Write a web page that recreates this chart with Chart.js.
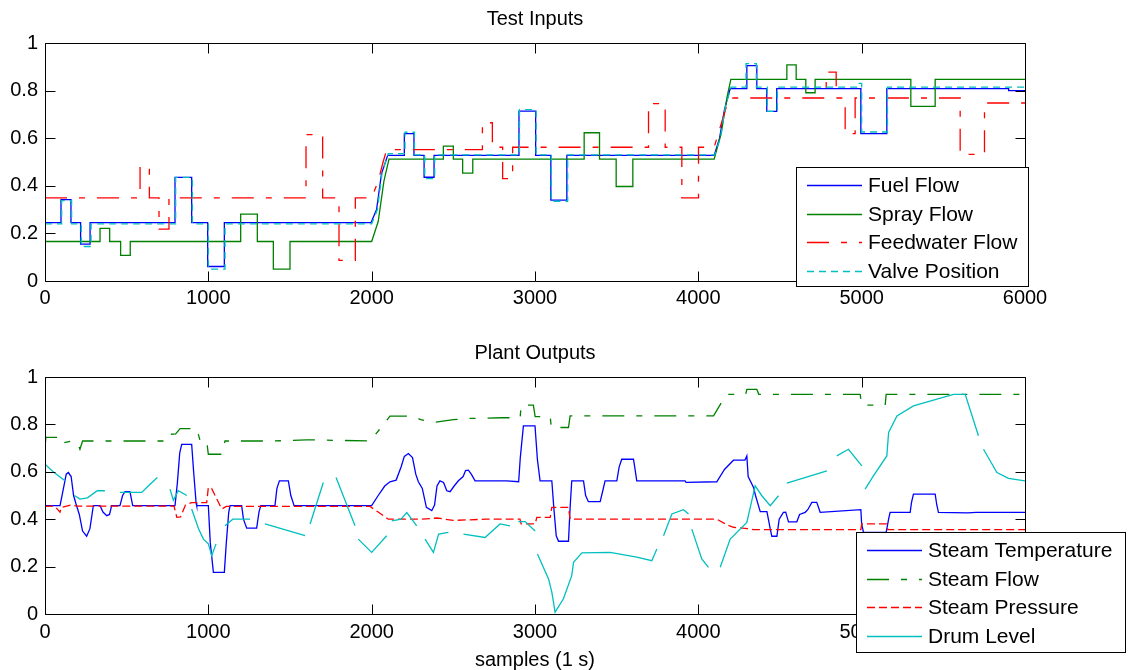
<!DOCTYPE html>
<html>
<head>
<meta charset="utf-8">
<script src="https://cdn.jsdelivr.net/npm/chart.js@4.4.1/dist/chart.umd.min.js"></script>
<style>
  body { margin: 0; background: #fff; }
  #wrap { position: relative; width: 1128px; height: 670px; }
  canvas { position: absolute; left: 0; }
</style>
</head>
<body>
<div id="wrap">
  <canvas id="inputs" width="1128" height="335" style="top:0"></canvas>
  <canvas id="outputs" width="1128" height="335" style="top:335px"></canvas>
</div>
<script>
// ---- data: [sample, value] vertices ----
const xTicks = [0, 1000, 2000, 3000, 4000, 5000, 6000];
const yTicks = [0, 0.2, 0.4, 0.6, 0.8, 1];

const fuelFlow = [[0,.245],[98,.245],[98,.342],[159,.342],[159,.245],[218,.245],[218,.155],[276,.155],[276,.245],[796,.245],[796,.435],[898,.435],[898,.245],[996,.245],[996,.061],[1098,.061],[1098,.245],[1996,.245],[2030,.30],[2060,.45],[2098,.528],[2200,.528],[2200,.619],[2259,.619],[2259,.528],[2321,.528],[2321,.436],[2382,.436],[2382,.528],[2902,.528],[2902,.714],[3004,.714],[3004,.528],[3097,.528],[3097,.34],[3195,.34],[3195,.528],[4097,.528],[4130,.60],[4160,.72],[4195,.808],[4297,.808],[4297,.905],[4358,.905],[4358,.808],[4419,.808],[4419,.713],[4480,.713],[4480,.808],[4995,.808],[4995,.619],[5154,.619],[5154,.808],[5900,.808],[5900,.80],[6000,.80]];

const sprayFlow = [[0,.166],[337,.166],[337,.221],[396,.221],[396,.166],[463,.166],[463,.108],[522,.108],[522,.166],[1198,.166],[1198,.281],[1300,.281],[1300,.166],[1398,.166],[1398,.05],[1500,.05],[1500,.166],[2000,.166],[2040,.25],[2075,.42],[2106,.512],[2439,.512],[2439,.567],[2500,.567],[2500,.512],[2557,.512],[2557,.453],[2619,.453],[2619,.512],[3301,.512],[3301,.623],[3395,.623],[3395,.512],[3497,.512],[3497,.397],[3599,.397],[3599,.512],[4097,.512],[4140,.62],[4175,.77],[4199,.847],[4542,.847],[4542,.908],[4599,.908],[4599,.847],[4658,.847],[4658,.791],[4715,.791],[4715,.847],[5301,.847],[5301,.734],[5450,.734],[5450,.847],[6000,.847]];

const feedwaterFlow = [[0,.349],[582,.349],[582,.481],[639,.481],[639,.349],[698,.349],[698,.218],[759,.218],[759,.349],[1598,.349],[1598,.615],[1700,.615],[1700,.349],[1800,.349],[1800,.087],[1900,.087],[1900,.349],[2000,.349],[2040,.42],[2070,.50],[2092,.552],[2678,.552],[2678,.665],[2739,.665],[2739,.562],[2802,.562],[2802,.43],[2863,.43],[2863,.562],[3695,.562],[3695,.745],[3797,.745],[3797,.562],[3899,.562],[3899,.349],[4001,.349],[4001,.562],[4097,.562],[4140,.66],[4175,.74],[4195,.769],[4783,.769],[4783,.878],[4844,.878],[4844,.769],[4899,.769],[4899,.619],[4960,.619],[4960,.769],[5603,.769],[5603,.532],[5752,.532],[5752,.748],[6000,.748]];

const valvePosition = [[0,.24],[102,.24],[102,.338],[163,.338],[163,.24],[222,.24],[222,.145],[282,.145],[282,.24],[800,.24],[800,.435],[902,.435],[902,.24],[1000,.24],[1000,.05],[1102,.05],[1102,.24],[2000,.24],[2035,.30],[2065,.46],[2102,.535],[2204,.535],[2204,.625],[2262,.625],[2262,.53],[2325,.53],[2325,.43],[2386,.43],[2386,.53],[2905,.53],[2905,.72],[3007,.72],[3007,.53],[3100,.53],[3100,.335],[3200,.335],[3200,.53],[4100,.53],[4135,.60],[4165,.73],[4200,.815],[4292,.815],[4292,.913],[4355,.913],[4355,.815],[4422,.815],[4422,.713],[4484,.713],[4484,.815],[4985,.815],[4985,.83],[5000,.83],[5000,.626],[5158,.626],[5158,.815],[6000,.815]];

const steamTemperature = [[0,.457],[92,.457],[110,.52],[130,.59],[143,.597],[160,.58],[175,.50],[190,.464],[210,.42],[230,.35],[255,.328],[275,.36],[296,.457],[337,.457],[355,.43],[378,.415],[395,.42],[408,.457],[459,.457],[475,.50],[490,.516],[520,.516],[537,.457],[796,.457],[810,.55],[825,.68],[837,.716],[898,.716],[910,.60],[925,.47],[929,.457],[1000,.457],[1012,.30],[1031,.176],[1098,.176],[1110,.30],[1125,.43],[1133,.457],[1204,.457],[1215,.40],[1235,.362],[1296,.362],[1310,.43],[1321,.457],[1408,.457],[1420,.53],[1435,.562],[1490,.562],[1505,.50],[1525,.457],[2000,.457],[2040,.50],[2080,.54],[2112,.558],[2150,.565],[2180,.62],[2200,.665],[2225,.677],[2250,.66],[2270,.59],[2286,.558],[2310,.53],[2335,.45],[2368,.436],[2385,.46],[2400,.54],[2418,.562],[2440,.555],[2460,.52],[2480,.516],[2505,.54],[2531,.562],[2560,.58],[2575,.605],[2592,.607],[2610,.59],[2633,.562],[2827,.562],[2900,.558],[2910,.66],[2929,.794],[3000,.794],[3015,.65],[3031,.562],[3103,.562],[3115,.45],[3130,.33],[3144,.307],[3205,.307],[3215,.45],[3225,.562],[3297,.562],[3310,.50],[3327,.474],[3399,.474],[3415,.52],[3429,.562],[3501,.562],[3515,.62],[3531,.653],[3603,.653],[3615,.60],[3623,.562],[3919,.562],[3925,.555],[4113,.558],[4160,.61],[4215,.649],[4285,.649],[4297,.667],[4305,.58],[4338,.534],[4350,.50],[4379,.432],[4420,.432],[4440,.36],[4450,.328],[4481,.328],[4495,.40],[4521,.429],[4535,.43],[4552,.389],[4603,.389],[4620,.42],[4654,.429],[4670,.44],[4695,.471],[4725,.471],[4746,.429],[4995,.44],[5000,.38],[5011,.344],[5150,.344],[5165,.40],[5174,.429],[5297,.429],[5305,.47],[5317,.506],[5450,.506],[5460,.46],[5470,.429],[5650,.427],[5700,.429],[6000,.429]];

const steamFlow = [[0,.70],[5,.745],[92,.745],[100,.72],[163,.73],[200,.72],[214,.695],[230,.73],[745,.73],[760,.758],[800,.76],[827,.782],[929,.782],[950,.73],[990,.73],[1000,.674],[1082,.674],[1102,.73],[1400,.73],[1600,.735],[1990,.73],[2050,.78],[2112,.835],[2255,.835],[2300,.82],[2378,.808],[2500,.82],[2600,.825],[2800,.828],[2909,.828],[2915,.881],[2990,.881],[3001,.833],[3093,.833],[3100,.787],[3205,.787],[3215,.836],[4093,.836],[4140,.89],[4174,.927],[4290,.927],[4297,.948],[4358,.948],[4370,.927],[4991,.927],[5000,.881],[5144,.881],[5150,.927],[6000,.927]];

const steamPressure = [[0,.454],[60,.455],[92,.43],[100,.45],[160,.46],[200,.455],[790,.455],[807,.408],[830,.41],[860,.46],[898,.47],[990,.47],[1000,.534],[1020,.53],[1082,.443],[1110,.454],[1990,.454],[2040,.43],[2102,.40],[2300,.40],[2400,.405],[2500,.395],[2700,.40],[2908,.40],[2915,.38],[3001,.38],[3011,.408],[3093,.408],[3103,.45],[3205,.45],[3215,.40],[4113,.40],[4180,.375],[4215,.366],[4300,.36],[4338,.356],[4995,.356],[5000,.38],[5154,.38],[5160,.356],[6000,.356]];

// drum level trace is broken in the picture; null marks a gap
const drumLevel = [[0,.632],[50,.60],[122,.562],[150,null],[180,.50],[214,.485],[260,.49],[320,.52],[367,.52],[410,null],[459,.513],[592,.513],[640,.545],[688,.576],[720,null],[765,.527],[786,.48],[816,.52],[868,.50],[880,null],[898,.443],[940,.36],[970,.316],[1000,.296],[1021,.246],[1047,.296],[1070,null],[1102,.372],[1150,.40],[1255,.40],[1300,null],[1347,.38],[1592,.331],[1610,null],[1623,.38],[1704,.555],[1740,null],[1782,.576],[1898,.372],[1910,null],[1918,.316],[2000,.26],[2092,.33],[2110,null],[2123,.393],[2180,.40],[2215,.428],[2276,.372],[2300,null],[2327,.316],[2378,.26],[2410,.337],[2470,.344],[2520,null],[2562,.337],[2694,.323],[2786,.38],[2847,.372],[2870,null],[2898,.39],[2940,.39],[3001,.35],[3008,null],[3015,.253],[3083,.148],[3103,.092],[3123,.008],[3174,.064],[3225,.162],[3236,.218],[3287,.258],[3460,.26],[3623,.24],[3715,.225],[3746,.274],[3765,null],[3787,.33],[3838,.422],[3909,.44],[3940,.422],[3950,null],[3960,.358],[4021,.232],[4062,.197],[4100,null],[4134,.197],[4195,.316],[4297,.386],[4348,.541],[4389,.499],[4440,.457],[4491,.499],[4520,null],[4542,.552],[4787,.604],[4820,null],[4848,.667],[4919,.695],[5001,.625],[5010,null],[5021,.527],[5072,.583],[5154,.667],[5165,.766],[5216,.836],[5317,.878],[5562,.927],[5634,.927],[5715,.752],[5730,null],[5746,.695],[5828,.597],[5899,.572],[6000,.562]];

const BLUE = '#0000ff', GREEN = '#008000', RED = '#ff0000', CYAN = '#00bfbf';
const DASH_DOT = [22, 12, 6, 12];
const DASH = [8, 4];
const TICK_LEN = 10;

Chart.defaults.font.family = '"Liberation Sans", Arial, Helvetica, sans-serif';
Chart.defaults.font.size = 20;
Chart.defaults.color = '#000';

// MATLAB style frame: box with inward ticks on all four sides
const frameTicks = {
    id: 'frameTicks',
    afterDatasetsDraw(chart) {
        const { ctx, chartArea: a, scales } = chart;
        const x = scales.x, y = scales.y;
        const top = Math.round(a.top) + 0.5, bottom = Math.round(a.bottom) + 0.5;
        const left = Math.round(a.left) + 0.5, right = Math.round(a.right) + 0.5;
        ctx.save();
        ctx.strokeStyle = '#000';
        ctx.lineWidth = 1;
        ctx.setLineDash([]);
        ctx.beginPath();
        x.ticks.forEach(t => {
            const px = Math.round(x.getPixelForValue(t.value)) + 0.5;
            ctx.moveTo(px, bottom); ctx.lineTo(px, bottom - TICK_LEN);
            ctx.moveTo(px, top); ctx.lineTo(px, top + TICK_LEN);
        });
        y.ticks.forEach(t => {
            const py = Math.round(y.getPixelForValue(t.value)) + 0.5;
            ctx.moveTo(left, py); ctx.lineTo(left + TICK_LEN, py);
            ctx.moveTo(right, py); ctx.lineTo(right - TICK_LEN, py);
        });
        ctx.rect(left, top, right - left, bottom - top);
        ctx.stroke();
        ctx.restore();
    }
};

// boxed legend drawn inside the axes like MATLAB does
const boxLegend = {
    id: 'boxLegend',
    afterDraw(chart, args, opts) {
        const { ctx } = chart;
        ctx.save();
        ctx.fillStyle = '#fff';
        ctx.fillRect(opts.left, opts.top, opts.width, opts.height);
        ctx.strokeStyle = '#000';
        ctx.lineWidth = 1;
        ctx.setLineDash([]);
        ctx.strokeRect(opts.left + 0.5, opts.top + 0.5, opts.width, opts.height);
        ctx.font = '21px "Liberation Sans", Arial, sans-serif';
        ctx.textBaseline = 'middle';
        ctx.textAlign = 'left';
        chart.data.datasets.forEach((ds, i) => {
            const cy = Math.round(opts.firstRow + i * opts.rowGap) + 0.5;
            ctx.strokeStyle = ds.borderColor;
            ctx.lineWidth = ds.borderWidth;
            ctx.setLineDash(ds.borderDash || []);
            ctx.beginPath();
            ctx.moveTo(opts.left + 11, cy);
            ctx.lineTo(opts.left + 66, cy);
            ctx.stroke();
            ctx.fillStyle = '#000';
            ctx.fillText(ds.label, opts.left + 72, cy + 1);
        });
        ctx.restore();
    }
};

function toPoints(pairs) {
    return pairs.map(p => ({ x: p[0], y: p[1] }));
}

function series(label, pairs, color, dash, order) {
    return {
        label: label,
        data: toPoints(pairs),
        borderColor: color,
        borderWidth: 1.3,
        borderDash: dash,
        pointRadius: 0,
        tension: 0,
        spanGaps: false,
        order: order
    };
}

// the subplot title sits on an empty top axis so it centres over the axes box
function buildOptions(title, titleTop, xLabelPad, xTitle, legend) {
    return {
        responsive: false,
        animation: false,
        events: [],
        layout: { padding: 0 },
        scales: {
            x: {
                type: 'linear', min: 0, max: 6000,
                afterBuildTicks: s => { s.ticks = xTicks.map(v => ({ value: v })); },
                ticks: { padding: xLabelPad, maxRotation: 0, autoSkip: false, callback: v => String(v) },
                grid: { display: false, drawTicks: false },
                border: { display: false },
                title: xTitle ? { display: true, text: xTitle, font: { size: 20, lineHeight: 1 }, padding: 0 } : { display: false },
                afterFit: s => { s.height = xTitle ? 56 : 54; }
            },
            xTop: {
                type: 'linear', position: 'top', min: 0, max: 6000,
                ticks: { display: false },
                grid: { display: false, drawTicks: false },
                border: { display: false },
                title: { display: true, text: title, font: { size: 20, lineHeight: 1 }, padding: { top: titleTop, bottom: 0 } },
                afterFit: s => { s.height = titleTop + 34; }
            },
            y: {
                type: 'linear', min: 0, max: 1,
                afterBuildTicks: s => { s.ticks = yTicks.map(v => ({ value: v })); },
                ticks: { padding: 7, callback: v => String(v) },
                grid: { display: false, drawTicks: false },
                border: { display: false },
                afterFit: s => { s.width = 45; }
            },
            yRight: {
                type: 'linear', position: 'right', min: 0, max: 1,
                ticks: { display: false },
                grid: { display: false, drawTicks: false },
                border: { display: false },
                afterFit: s => { s.width = 103; }
            }
        },
        plugins: {
            legend: { display: false },
            tooltip: { enabled: false },
            title: { display: false },
            boxLegend: legend
        }
    };
}

document.addEventListener('DOMContentLoaded', function() {
    new Chart(document.getElementById('inputs'), {
        type: 'line',
        data: {
            datasets: [
                series('Fuel Flow', fuelFlow, BLUE, [], 4),
                series('Spray Flow', sprayFlow, GREEN, [], 3),
                series('Feedwater Flow', feedwaterFlow, RED, DASH_DOT, 2),
                series('Valve Position', valvePosition, CYAN, [7, 5], 1)
            ]
        },
        options: buildOptions('Test Inputs', 9, 5, null,
            { left: 796, top: 167, width: 232, height: 119, firstRow: 185, rowGap: 28.5 }),
        plugins: [frameTicks, boxLegend]
    });

    new Chart(document.getElementById('outputs'), {
        type: 'line',
        data: {
            datasets: [
                series('Steam Temperature', steamTemperature, BLUE, [], 4),
                series('Steam Flow', steamFlow, GREEN, DASH_DOT, 3),
                series('Steam Pressure', steamPressure, RED, DASH, 2),
                series('Drum Level', drumLevel, CYAN, [], 1)
            ]
        },
        options: buildOptions('Plant Outputs', 8, 6, 'samples (1 s)',
            { left: 856, top: 197, width: 269, height: 120, firstRow: 215, rowGap: 28.5 }),
        plugins: [frameTicks, boxLegend]
    });
});
</script>
</body>
</html>
